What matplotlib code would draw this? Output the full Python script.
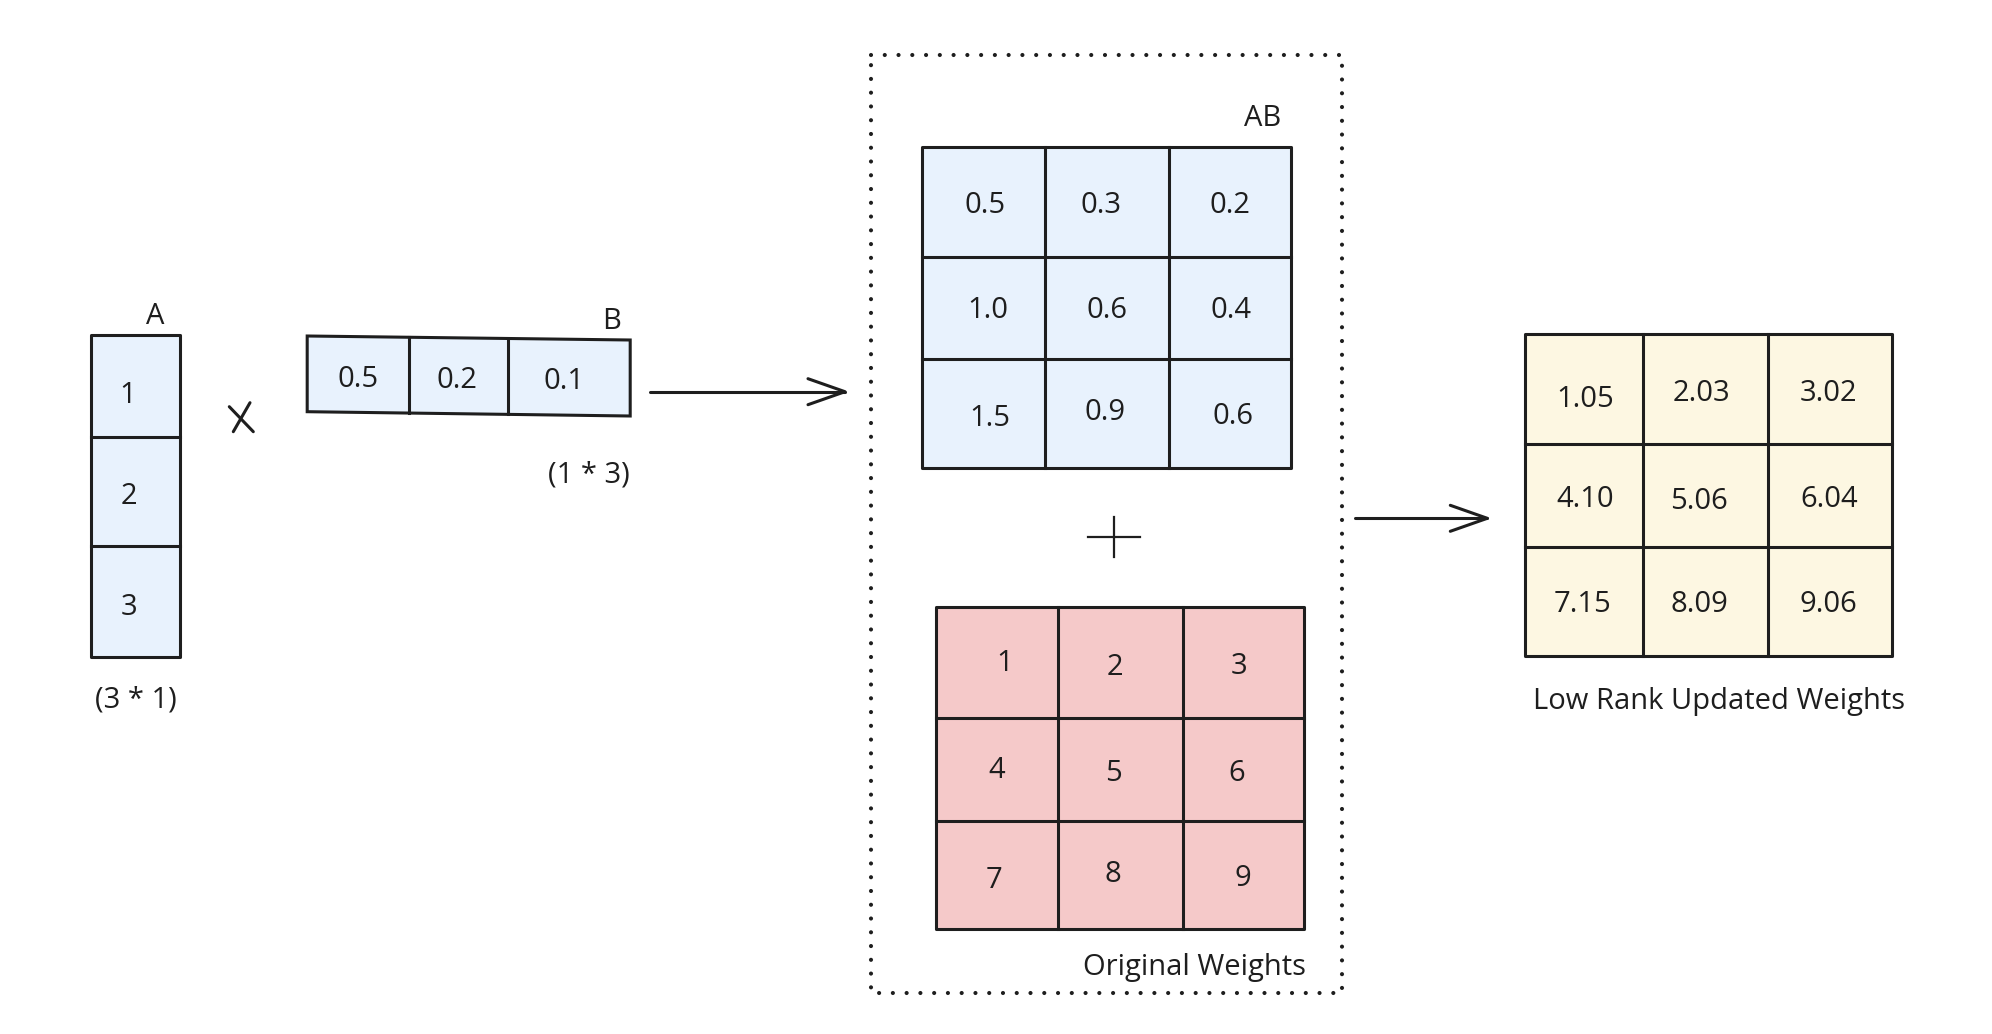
"""LoRA-style diagram: A (3x1) times B (1x3) plus original weights gives updated weights."""

import matplotlib

matplotlib.use("Agg")

import matplotlib.pyplot as plt  # noqa: E402
from matplotlib.patches import Polygon  # noqa: E402

# ---- data -------------------------------------------------------------
a_values = ["1", "2", "3"]
b_values = ["0.5", "0.2", "0.1"]
ab_values = [["0.5", "0.3", "0.2"],
             ["1.0", "0.6", "0.4"],
             ["1.5", "0.9", "0.6"]]
orig_values = [["1", "2", "3"],
               ["4", "5", "6"],
               ["7", "8", "9"]]
updated_values = [["1.05", "2.03", "3.02"],
                  ["4.10", "5.06", "6.04"],
                  ["7.15", "8.09", "9.06"]]
a_shape = "(3 * 1)"
b_shape = "(1 * 3)"

# ---- layout: hand-placed text nudges (px) from each cell centre --------
a_nudge = [[(-8, 7)], [(-6, 2)], [(-6, 3)]]
b_nudge = [(0, 2), (-2, 2), (-5, 1)]
ab_nudge = [[(1, 1), (-6, 1), (0, 1)],
            [(4, -1), (0, 0), (1, 0)],
            [(6, 2), (-2, -4), (3, 0)]]
orig_nudge = [[(8, -2), (-6, 2), (-5, 1)],
              [(0, -2), (-7, 1), (-7, 1)],
              [(-3, 2), (-8, -3), (-1, 1)]]
updated_nudge = [[(1, 7), (-4, 1), (-1, 1)],
                 [(1, 1), (-6, 3), (-1, 1)],
                 [(-1, 0), (-6, 0), (-1, 0)]]

# ---- style ------------------------------------------------------------
INK = "#1e1e1e"
BLUE = "#e8f2fd"
PINK = "#f5c9c9"
YELLOW = "#fdf7e2"
FONT = ["Open Sans", "DejaVu Sans"]
FS = 21
W, H = 1992, 1034

fig = plt.figure(figsize=(W / 100, H / 100), dpi=100)
ax = fig.add_axes([0, 0, 1, 1])
ax.set_xlim(0, W)
ax.set_ylim(H, 0)
ax.axis("off")


def label(x, y, s, **kw):
    # +3 px: matplotlib's "center" sits glyphs a touch high
    ax.text(x, y + 3, s, fontsize=FS, color=INK, family=FONT,
            ha=kw.pop("ha", "center"), va="center", **kw)


def grid(xs, ys, values, fill, nudge):
    """Matrix of cells; xs/ys are cell edges in pixel coordinates."""
    box = [(xs[0], ys[0]), (xs[-1], ys[0]), (xs[-1], ys[-1]), (xs[0], ys[-1])]
    ax.add_patch(Polygon(box, closed=True, facecolor=fill, edgecolor=INK,
                         linewidth=2.2, joinstyle="round"))
    for x in xs[1:-1]:
        ax.plot([x, x], [ys[0], ys[-1]], color=INK, lw=2.2)
    for y in ys[1:-1]:
        ax.plot([xs[0], xs[-1]], [y, y], color=INK, lw=2.2)
    for i, row in enumerate(values):
        for j, v in enumerate(row):
            dx, dy = nudge[i][j]
            label((xs[j] + xs[j + 1]) / 2 + dx, (ys[i] + ys[i + 1]) / 2 + dy, v)


def arrow(x0, x1, y):
    ax.plot([x0, x1], [y, y], color=INK, lw=2.2, solid_capstyle="round")
    ax.plot([x1 - 37, x1, x1 - 37], [y - 13, y, y + 13], color=INK, lw=2.2,
            solid_capstyle="round", solid_joinstyle="round")


# A: column vector
grid([90.6, 179.8], [335, 436.7, 545.7, 657.3], [[v] for v in a_values], BLUE, a_nudge)
label(154.9, 313.3, "A")
label(135.4, 696.7, a_shape)

# multiplication sign
ax.plot([229.3, 253.3], [406.7, 431.7], color=INK, lw=2.2, solid_capstyle="round")
ax.plot([250.0, 233.3], [402.7, 431.7], color=INK, lw=2.2, solid_capstyle="round")

# B: row vector, drawn slightly skewed like the sketch
bx = [307.2, 409.4, 507.8, 630.2]
b_top = [336.0, 337.3, 338.5, 340.0]
b_bot = [411.7, 413.1, 414.4, 416.0]
ax.add_patch(Polygon([(bx[0], b_top[0]), (bx[-1], b_top[-1]),
                      (bx[-1], b_bot[-1]), (bx[0], b_bot[0])],
                     closed=True, facecolor=BLUE, edgecolor=INK, linewidth=2.2))
for k in (1, 2):
    ax.plot([bx[k], bx[k]], [b_top[k], b_bot[k]], color=INK, lw=2.2)
for j, v in enumerate(b_values):
    dx, dy = b_nudge[j]
    label((bx[j] + bx[j + 1]) / 2 + dx, (b_top[j] + b_bot[j + 1]) / 2 + dy, v)
label(611.1, 318.3, "B")
label(588.9, 471.7, b_shape)

arrow(650, 845, 391.7)

# dotted frame around AB + W
frame_x = [870.7, 1341.5, 1341.5, 870.7, 870.7]
frame_y = [55, 55, 992.7, 992.7, 55]
plt.rcParams["lines.scale_dashes"] = False
ax.plot(frame_x, frame_y, color=INK, lw=3.0, dashes=(0.01, 9.9),
        dash_capstyle="round")

grid([922.3, 1045, 1169.3, 1290.7], [146.7, 256.7, 359.3, 468.3], ab_values, BLUE, ab_nudge)
label(1262.7, 116, "AB")

# plus sign
ax.plot([1088.3, 1140], [537.3, 537.3], color=INK, lw=1.6)
ax.plot([1114, 1114], [516.7, 556.7], color=INK, lw=1.6)

grid([935.7, 1058.3, 1183.3, 1304], [607.3, 717.7, 820.7, 929.3], orig_values, PINK, orig_nudge)
label(1306, 964, "Original Weights", ha="right")

arrow(1355.3, 1487.3, 518.3)

grid([1524.5, 1643.1, 1767.5, 1892.2], [334, 444.3, 547.3, 656], updated_values, YELLOW,
     updated_nudge)
label(1719, 698.3, "Low Rank Updated Weights")

fig.savefig("out.png", dpi=100, facecolor="white")
plt.close(fig)
